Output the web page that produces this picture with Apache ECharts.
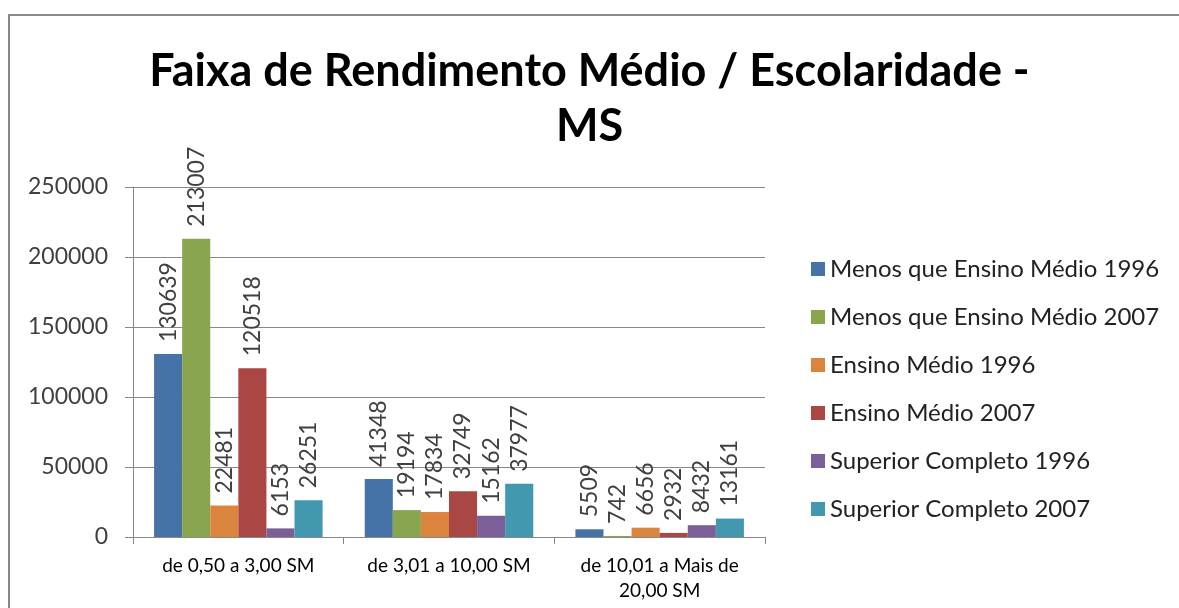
<!DOCTYPE html>
<html>
<head>
    <meta charset="UTF-8">
    <title></title>
    <script src="https://cdn.jsdelivr.net/npm/echarts@6/dist/echarts.min.js"></script>
</head>
<style type="text/css">
    html, body {
        height: 100%;
        width: 100%;
        margin: 0;
        padding: 0;
        background: #fff;
    }
    #main {
        width: 1179px;
        height: 608px;
    }
</style>
<body>
    <div id="main"></div>
</body>
<script>
    var categories = ['de 0,50 a 3,00 SM', 'de 3,01 a 10,00 SM', 'de 10,01 a Mais de\n20,00 SM'];
    var seriesNames = [
        'Menos que Ensino Médio 1996',
        'Menos que Ensino Médio 2007',
        'Ensino Médio 1996',
        'Ensino Médio 2007',
        'Superior Completo 1996',
        'Superior Completo 2007'
    ];
    var menos1996 = [130639, 41348, 5509];
    var menos2007 = [213007, 19194, 742];
    var medio1996 = [22481, 17834, 6656];
    var medio2007 = [120518, 32749, 2932];
    var superior1996 = [6153, 15162, 8432];
    var superior2007 = [26251, 37977, 13161];
    var yTicks = [0, 50000, 100000, 150000, 200000, 250000];

    var colors = ['#4572A7', '#89A54E', '#DB843D', '#AA4643', '#7A5F99', '#4198AF'];
    var font = 'Lato, "Open Sans", sans-serif';
    var values = [menos1996, menos2007, medio1996, medio2007, superior1996, superior2007];

    var series = [];
    for (var i = 0; i < seriesNames.length; i++) {
        series.push({
            name: seriesNames[i],
            type: 'bar',
            data: values[i],
            barGap: '0%',
            barCategoryGap: '20%',
            itemStyle: { color: colors[i] },
            label: {
                show: true,
                position: 'top',
                rotate: 90,
                align: 'left',
                verticalAlign: 'middle',
                distance: 12,
                fontFamily: font,
                fontSize: 23,
                color: '#404040'
            }
        });
    }

    var myChart = echarts.init(document.getElementById('main'));
    var option = {
        animation: false,
        color: colors,
        title: {
            text: 'Faixa de Rendimento Médio / Escolaridade -\nMS',
            left: 'center',
            top: 39,
            textStyle: {
                fontFamily: font,
                fontWeight: 'bold',
                fontSize: 45,
                lineHeight: 55,
                color: '#000'
            }
        },
        legend: {
            orient: 'vertical',
            left: 806,
            top: 252,
            itemWidth: 14,
            itemHeight: 14,
            itemGap: 24,
            icon: 'rect',
            textStyle: {
                fontFamily: font,
                fontSize: 24,
                color: '#222'
            },
            data: seriesNames
        },
        grid: {
            left: 133,
            right: 414,
            top: 187,
            bottom: 71,
            containLabel: false
        },
        xAxis: {
            type: 'category',
            data: categories,
            axisLine: { lineStyle: { color: '#888' } },
            axisTick: { show: true, length: 7, lineStyle: { color: '#888' } },
            axisLabel: {
                interval: 0,
                hideOverlap: false,
                fontFamily: font,
                fontSize: 19,
                color: '#000',
                margin: 16,
                lineHeight: 25
            }
        },
        yAxis: {
            type: 'value',
            min: yTicks[0],
            max: yTicks[yTicks.length - 1],
            interval: 50000,
            axisLine: { show: true, lineStyle: { color: '#888' } },
            axisTick: { show: true, inside: false, length: 8, lineStyle: { color: '#888' } },
            splitLine: { lineStyle: { color: '#888' } },
            axisLabel: {
                fontFamily: font,
                fontSize: 23,
                color: '#404040',
                margin: 25,
                formatter: function (v) { return String(v); }
            }
        },
        graphic: [{
            type: 'rect',
            shape: { x: 9, y: 15, width: 1300, height: 800 },
            style: { fill: 'none', stroke: '#888', lineWidth: 2 },
            silent: true
        }],
        series: series
    };
    myChart.setOption(option);
</script>
</html>
